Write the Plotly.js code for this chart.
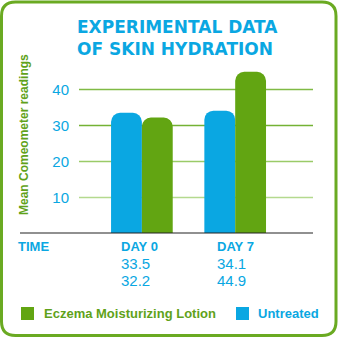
<!DOCTYPE html>
<html><head><meta charset="utf-8">
<script src="https://cdn.plot.ly/plotly-3.0.1.min.js"></script>
<style>html,body{margin:0;padding:0;background:#fff}#chart{width:340px;height:340px}</style>
</head><body><div id="chart"></div>
<script>
// ---- data ----
const categories = ['DAY 0', 'DAY 7'];
const untreated = [33.5, 34.1];
const lotion = [32.2, 44.9];
const seriesNames = ['Eczema Moisturizing Lotion', 'Untreated'];
const yTicks = [10, 20, 30, 40];
const rowLabel = 'TIME';
const chartTitle = 'EXPERIMENTAL DATA<br>OF SKIN HYDRATION';
const yTitle = 'Mean Comeometer readings';

// ---- styles ----
const BLUE = '#0aa7e2', GREEN = '#62a512', TXTGREEN = '#5fa21a';
const gridColors = ['#b4d98e', '#9acb68', '#74b234', '#80ba45'];
const FONT = 'Liberation Sans, Arial, sans-serif';
const TFONT = 'DejaVu Sans, sans-serif';
const L = 79, R = 313, T = 60, B = 233;
const px2x = p => (p - L) / (R - L);
const py2y = p => (B - p) / (B - T);

const traces = [
  {type: 'bar', x: categories, y: untreated, name: seriesNames[1], marker: {color: BLUE, line: {width: 0}}, hoverinfo: 'skip'},
  {type: 'bar', x: categories, y: lotion, name: seriesNames[0], marker: {color: GREEN, line: {width: 0}}, hoverinfo: 'skip'}
];

const shapes = [];
yTicks.forEach((v, i) => shapes.push({type: 'line', xref: 'paper', yref: 'y', x0: 0, x1: 1, y0: v, y1: v, layer: 'below', line: {color: gridColors[i], width: 1.5}}));
shapes.push({type: 'line', xref: 'paper', yref: 'paper', x0: px2x(20), x1: 1, y0: 0, y1: 0, line: {color: '#222', width: 1.2}});
// legend squares
shapes.push({type: 'rect', xref: 'paper', yref: 'paper', x0: px2x(21), x1: px2x(34), y0: py2y(320), y1: py2y(307), fillcolor: GREEN, line: {width: 0}});
shapes.push({type: 'rect', xref: 'paper', yref: 'paper', x0: px2x(236), x1: px2x(249), y0: py2y(320), y1: py2y(307), fillcolor: BLUE, line: {width: 0}});
// rounded border
(function () {
  const x0 = 1.5, y0 = 2, x1 = 336, y1 = 335.5, r = 14;
  const X = px2x, Y = py2y;
  const p = `M${X(x0 + r)},${Y(y0)} L${X(x1 - r)},${Y(y0)} Q${X(x1)},${Y(y0)} ${X(x1)},${Y(y0 + r)} L${X(x1)},${Y(y1 - r)} Q${X(x1)},${Y(y1)} ${X(x1 - r)},${Y(y1)} L${X(x0 + r)},${Y(y1)} Q${X(x0)},${Y(y1)} ${X(x0)},${Y(y1 - r)} L${X(x0)},${Y(y0 + r)} Q${X(x0)},${Y(y0)} ${X(x0 + r)},${Y(y0)} Z`;
  shapes.push({type: 'path', xref: 'paper', yref: 'paper', path: p, line: {color: '#6aaa22', width: 3}});
})();

const annotations = [];
annotations.push({xref: 'paper', yref: 'paper', x: px2x(24), y: py2y(135), text: yTitle, textangle: -90, showarrow: false, xanchor: 'center', yanchor: 'middle', font: {family: FONT, size: 12, color: TXTGREEN, weight: 'bold'}});
annotations.push({xref: 'paper', yref: 'paper', x: px2x(16), y: 0, yshift: -13, text: rowLabel, showarrow: false, xanchor: 'left', yanchor: 'middle', font: {family: FONT, size: 13, color: BLUE, weight: 'bold'}});
const shifts = [-23, -20];
categories.forEach((c, i) => {
  annotations.push({xref: 'x', yref: 'paper', x: c, y: 0, xshift: shifts[i], yshift: -13, text: c, showarrow: false, xanchor: 'left', yanchor: 'middle', font: {family: FONT, size: 13, color: BLUE, weight: 'bold'}});
  annotations.push({xref: 'x', yref: 'paper', x: c, y: 0, xshift: shifts[i], yshift: -30, text: untreated[i].toFixed(1), showarrow: false, xanchor: 'left', yanchor: 'middle', font: {family: FONT, size: 15, color: BLUE}});
  annotations.push({xref: 'x', yref: 'paper', x: c, y: 0, xshift: shifts[i], yshift: -47, text: lotion[i].toFixed(1), showarrow: false, xanchor: 'left', yanchor: 'middle', font: {family: FONT, size: 15, color: BLUE}});
});
annotations.push({xref: 'paper', yref: 'paper', x: px2x(42), y: py2y(313.5), text: seriesNames[0], showarrow: false, xanchor: 'left', yanchor: 'middle', font: {family: FONT, size: 13, color: TXTGREEN, weight: 'bold'}});
annotations.push({xref: 'paper', yref: 'paper', x: px2x(256), y: py2y(313.5), text: seriesNames[1], showarrow: false, xanchor: 'left', yanchor: 'middle', font: {family: FONT, size: 13, color: BLUE, weight: 'bold'}});

const layout = {
  width: 340, height: 340,
  margin: {l: L, r: 340 - R, t: T, b: 340 - B, pad: 0},
  paper_bgcolor: '#fff', plot_bgcolor: '#fff',
  showlegend: false,
  barmode: 'group', bargap: 0.339, bargroupgap: 0, barcornerradius: 9,
  title: {text: chartTitle, xref: 'container', yref: 'container', x: 77 / 340, xanchor: 'left', y: 1 - 33 / 340, yanchor: 'middle', font: {family: TFONT, size: 17, color: BLUE, weight: 'bold'}},
  xaxis: {type: 'category', range: [-0.674, 1.834], showticklabels: false, showgrid: false, zeroline: false, showline: false, ticks: '', fixedrange: true},
  yaxis: {range: [0.1, 48.2], tickvals: yTicks, ticktext: yTicks.map(String), showgrid: false, zeroline: false, showline: false, ticks: '', ticklabelstandoff: 9, tickfont: {family: FONT, size: 15, color: BLUE}, fixedrange: true},
  shapes: shapes, annotations: annotations
};
Plotly.newPlot('chart', traces, layout, {staticPlot: true, displayModeBar: false});
</script></body></html>
